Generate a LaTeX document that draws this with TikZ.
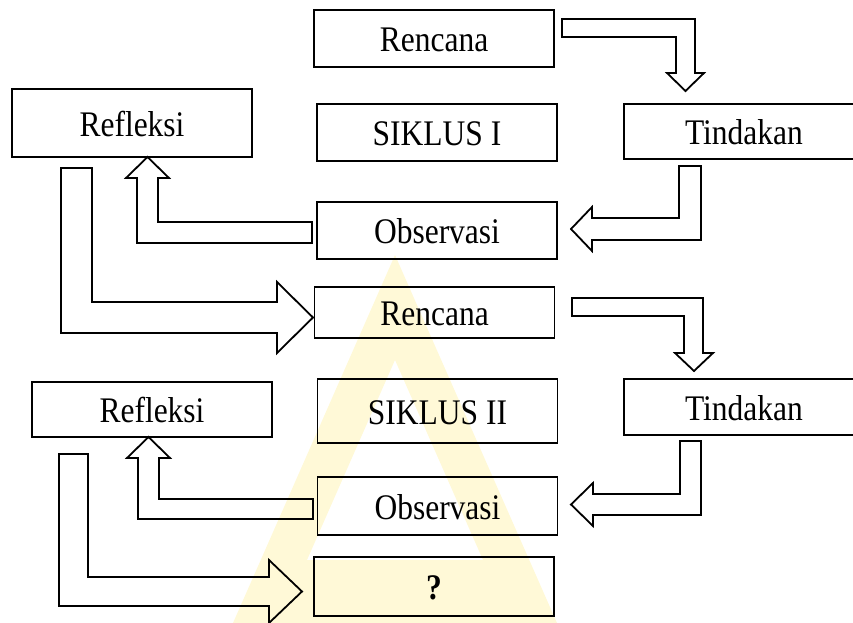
\documentclass[tikz,border=0pt]{standalone}
\usepackage{fontspec}
\setmainfont{Liberation Serif}
\newfontfamily\boxfont[FakeStretch=0.875]{Liberation Serif}
\definecolor{wm}{RGB}{255,232,110}
\tikzset{
  box/.style={draw=black, line width=1.8pt, rectangle, inner sep=0pt,
    minimum width=240pt, font=\boxfont\fontsize{36}{40}\selectfont,
    text height=26pt, text depth=0pt},
  blockarrow/.style={draw=black, line width=1.8pt, line join=miter}
}
\begin{document}
\begin{tikzpicture}[x=1pt,y=-1pt]
\useasboundingbox (0,0) rectangle (853,623);
\clip (0,0) rectangle (853,623);
% watermark
\fill[wm, opacity=0.28, even odd rule]
  (395,255) -- (233,623) -- (557,623) -- cycle
  (395,360) -- (307,560) -- (483,560) -- cycle;
% boxes
\node[box, minimum height=57pt] (p1) at (434,38.5) {Rencana};
\node[box, minimum height=57pt] (s1) at (437,132.5) {SIKLUS I};
\node[box, minimum height=57pt] (o1) at (437,230.5) {Observasi};
\node[box, minimum height=55pt] (t1) at (744,131.5) {Tindakan};
\node[box, minimum height=68pt] (r1) at (132,123) {Refleksi};
\node[box, minimum height=51pt] (p2) at (434.5,312.5) {Rencana};
\node[box, minimum height=64pt] (s2) at (437.5,411) {SIKLUS II};
\node[box, minimum height=58pt] (o2) at (437.5,506) {Observasi};
\node[box, minimum height=59pt] (q) at (434,586.5) {\textbf{?}};
\node[box, minimum height=56pt] (t2) at (744,407) {Tindakan};
\node[box, minimum height=55pt] (r2) at (152,409.5) {Refleksi};
% block arrows
% Rencana 1 -> Tindakan 1
\draw[blockarrow] (562,19) -- (695,19) -- (695,73) -- (704,73) -- (685.5,91)
  -- (667,73) -- (676,73) -- (676,37) -- (562,37) -- cycle;
% Tindakan 1 -> Observasi 1
\draw[blockarrow] (679,166) -- (701,166) -- (701,240) -- (592,240) -- (592,251)
  -- (571,229) -- (592,207) -- (592,218) -- (679,218) -- cycle;
% Observasi 1 -> Refleksi 1
\draw[blockarrow] (312,222) -- (312,243) -- (137,243) -- (137,178) -- (126,178)
  -- (147.5,157) -- (169,178) -- (158,178) -- (158,222) -- cycle;
% Refleksi 1 -> Rencana 2
\draw[blockarrow] (61,168) -- (92,168) -- (92,302) -- (277,302) -- (277,282)
  -- (313,317.5) -- (277,353) -- (277,333) -- (61,333) -- cycle;
% Rencana 2 -> Tindakan 2
\draw[blockarrow] (572,298) -- (703,298) -- (703,353) -- (713,353) -- (694,371)
  -- (675,353) -- (684,353) -- (684,316) -- (572,316) -- cycle;
% Tindakan 2 -> Observasi 2
\draw[blockarrow] (680,441) -- (701,441) -- (701,515) -- (593,515) -- (593,526)
  -- (571,504.5) -- (593,483) -- (593,494) -- (680,494) -- cycle;
% Observasi 2 -> Refleksi 2
\draw[blockarrow] (313,499) -- (313,519) -- (138,519) -- (138,458) -- (127,458)
  -- (148.5,437) -- (170,458) -- (159,458) -- (159,499) -- cycle;
% Refleksi 2 -> ?
\draw[blockarrow] (59,454) -- (88,454) -- (88,577) -- (269,577) -- (269,560)
  -- (302,591.5) -- (269,623) -- (269,606) -- (59,606) -- cycle;
\end{tikzpicture}
\end{document}
